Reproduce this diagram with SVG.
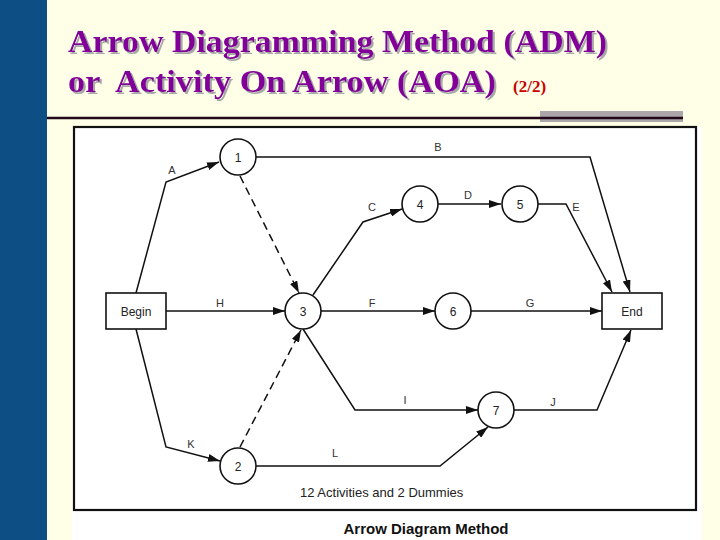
<svg xmlns="http://www.w3.org/2000/svg" width="720" height="540" viewBox="0 0 720 540">
<style>
.title{font-family:"Liberation Serif","Times New Roman",serif;font-weight:bold;font-size:32px;fill:#820099;filter:url(#sh)}
.node circle{fill:#fff;stroke:#111;stroke-width:1.6}
.node rect{fill:#fff;stroke:#111;stroke-width:1.6}
.node text{font-family:"Liberation Sans",Arial,sans-serif;font-size:12px;fill:#222;text-anchor:middle}
.edge{fill:none;stroke:#111;stroke-width:1.5;marker-end:url(#ah)}
.dash{stroke-dasharray:8 5}
.lbl{font-family:"Liberation Sans",Arial,sans-serif;font-size:11px;fill:#333;text-anchor:middle}
</style>
<defs>
<marker id="ah" markerWidth="12" markerHeight="8" refX="12" refY="4" orient="auto" markerUnits="userSpaceOnUse">
<path d="M0,0 L12,4 L0,8 z" fill="#111"/>
</marker>
<filter id="sh" x="-5%" y="-20%" width="110%" height="140%">
<feDropShadow dx="2" dy="2" stdDeviation="0" flood-color="#a8a8a8" flood-opacity="1"/>
</filter>
</defs>
<rect x="0" y="0" width="720" height="540" fill="#ffffe8"/>
<rect x="0" y="0" width="47" height="540" fill="#0d4e85"/>
<g id="title">
<text class="title" x="68" y="52" textLength="539" lengthAdjust="spacingAndGlyphs">Arrow Diagramming Method (ADM)</text>
<text class="title" x="68" y="92" xml:space="preserve" textLength="428" lengthAdjust="spacingAndGlyphs">or  Activity On Arrow (AOA)</text>
<text x="513" y="92" font-family="Liberation Serif,'Times New Roman',serif" font-weight="bold" font-size="17" fill="#cc0000">(2/2)</text>
</g>
<rect x="540" y="111" width="143" height="11" fill="#aaa6aa"/>
<line x1="47" y1="118" x2="683" y2="118" stroke="#200818" stroke-width="2.5"/>
<rect x="72" y="127" width="630" height="413" fill="#fff"/>
<rect x="74" y="127" width="622" height="383" fill="#fff" stroke="#111" stroke-width="2.2"/>
<g id="connectors">
<path class="edge" d="M136,293 L166,182 L219,162"/>
<path class="edge" d="M256,157 L590,157 L630,292"/>
<path class="edge dash" d="M240,176 L299,293"/>
<path class="edge" d="M166,311 L285,311"/>
<path class="edge" d="M313,295 L363,222 L402,209"/>
<path class="edge" d="M438,204 L501,204"/>
<path class="edge" d="M538,204 L566,204 L612,292"/>
<path class="edge" d="M321,311 L435,311"/>
<path class="edge" d="M471,311 L602,311"/>
<path class="edge" d="M303,329 L355,410 L478,410"/>
<path class="edge" d="M514,410 L597,410 L631,330"/>
<path class="edge" d="M136,329 L166,447 L220,461"/>
<path class="edge dash" d="M240,447 L301,330"/>
<path class="edge" d="M256,466 L440,466 L488,427"/>
<text class="lbl" x="172" y="174">A</text>
<text class="lbl" x="438" y="151">B</text>
<text class="lbl" x="372" y="211">C</text>
<text class="lbl" x="468" y="199">D</text>
<text class="lbl" x="576" y="211">E</text>
<text class="lbl" x="220" y="307">H</text>
<text class="lbl" x="372" y="307">F</text>
<text class="lbl" x="530" y="307">G</text>
<text class="lbl" x="405" y="404">I</text>
<text class="lbl" x="553" y="406">J</text>
<text class="lbl" x="191" y="448">K</text>
<text class="lbl" x="335" y="457">L</text>
</g>
<g id="begin" class="node"><rect x="106" y="293" width="60" height="36"/><text x="136" y="315.5">Begin</text></g>
<g id="end" class="node"><rect x="602" y="293" width="60" height="36"/><text x="632" y="315.5">End</text></g>
<g id="n1" class="node"><circle cx="238" cy="157" r="18"/><text x="238" y="161.5">1</text></g>
<g id="n2" class="node"><circle cx="238" cy="466" r="18"/><text x="238" y="470.5">2</text></g>
<g id="n3" class="node"><circle cx="303" cy="311" r="18"/><text x="303" y="315.5">3</text></g>
<g id="n4" class="node"><circle cx="420" cy="204" r="18"/><text x="420" y="208.5">4</text></g>
<g id="n5" class="node"><circle cx="520" cy="204" r="18"/><text x="520" y="208.5">5</text></g>
<g id="n6" class="node"><circle cx="453" cy="311" r="18"/><text x="453" y="315.5">6</text></g>
<g id="n7" class="node"><circle cx="496" cy="410" r="18"/><text x="496" y="414.5">7</text></g>
<text x="300" y="497" font-family="Liberation Sans,Arial,sans-serif" font-size="13" fill="#222">12 Activities and 2 Dummies</text>
<text x="426" y="534" font-family="Liberation Sans,Arial,sans-serif" font-size="15" font-weight="bold" fill="#111" text-anchor="middle">Arrow Diagram Method</text>
</svg>
